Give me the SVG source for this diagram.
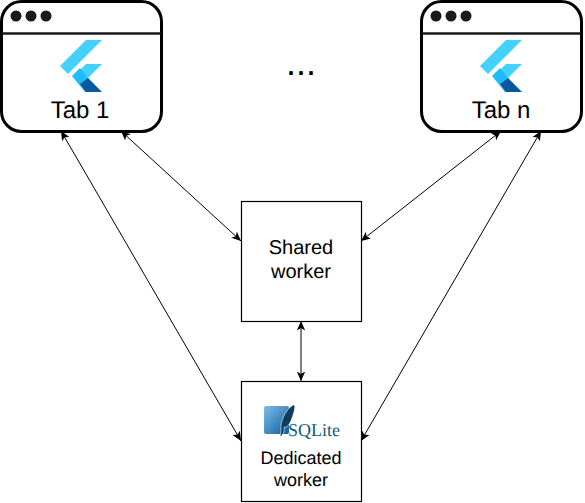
<svg xmlns="http://www.w3.org/2000/svg" width="585" height="503" viewBox="0 0 585 503">
<style>
text{font-family:"Liberation Sans",Arial,sans-serif;fill:#000;text-anchor:middle;text-rendering:geometricPrecision}
.tab{fill:#fff;stroke:#000;stroke-width:3}
.bar{stroke:#1a1a1a;stroke-width:2.5;fill:none}
.dot{fill:#1a1a1a}
.box{fill:#fff;stroke:#000;stroke-width:1.2}
.c{fill:none;stroke:#000;stroke-width:1;marker-start:url(#a);marker-end:url(#a)}
</style>
<defs>
<marker id="a" viewBox="0 0 10 10" refX="9.5" refY="5" markerUnits="userSpaceOnUse" markerWidth="10" markerHeight="10" orient="auto-start-reverse"><path d="M0 0.8L9.5 5L0 9.2L2.4 5Z" fill="#000"/></marker>
<linearGradient id="sq" x1="0" y1="0" x2="1" y2="1"><stop offset="0" stop-color="#7fbde6"/><stop offset="1" stop-color="#0b5fa0"/></linearGradient>
<g id="flutter">
<path d="M60 66L86 40H102L68 74Z" fill="#44d1fd"/>
<path d="M78 72L86 64H102L88 78Z" fill="#44d1fd"/>
<path d="M72 76L80 68L88 78L93 84L86 92H85Z" fill="#1fbcfd"/>
<path d="M80 84L88 78L102 92H86Z" fill="#08589c"/>
</g>
</defs>
<g id="connectors">
<line class="c" x1="121" y1="131" x2="241" y2="241"/>
<line class="c" x1="61" y1="131" x2="241" y2="441"/>
<line class="c" x1="501" y1="131" x2="361" y2="241"/>
<line class="c" x1="541" y1="131" x2="361" y2="441"/>
<line class="c" x1="301" y1="321" x2="301" y2="381"/>
</g>
<g id="tab1">
<rect class="tab" x="1.5" y="1.5" width="160" height="130" rx="20"/>
<line class="bar" x1="2" y1="33.5" x2="161" y2="33.5"/>
<circle class="dot" cx="16" cy="16" r="5.5"/><circle class="dot" cx="31" cy="16" r="5.5"/><circle class="dot" cx="46" cy="16" r="5.5"/>
<use href="#flutter"/>
<text x="80" y="118" font-size="24">Tab 1</text>
</g>
<g id="tabn">
<rect class="tab" x="421.5" y="1.5" width="160" height="130" rx="20"/>
<line class="bar" x1="422" y1="33.5" x2="581" y2="33.5"/>
<circle class="dot" cx="436" cy="16" r="5.5"/><circle class="dot" cx="451" cy="16" r="5.5"/><circle class="dot" cx="466" cy="16" r="5.5"/>
<use href="#flutter" x="420"/>
<text x="501" y="118" font-size="24">Tab n</text>
</g>
<g id="dots"><text x="301" y="75" font-size="36">...</text></g>
<g id="shared">
<rect class="box" x="241.5" y="201.5" width="120" height="120"/>
<text x="301" y="254" font-size="20">Shared</text>
<text x="301" y="278" font-size="20">worker</text>
</g>
<g id="dedicated">
<rect class="box" x="241.5" y="381.5" width="120" height="120"/>
<rect x="264" y="406" width="25" height="28" rx="2" fill="url(#sq)"/>
<path d="M293 405C296 404 295 410 292 418C290 424 287 428 284 427C285 432 282 436 280 437L281 430C280 422 285 410 293 405Z" fill="#0f3c5c" stroke="#fff" stroke-width=".6"/>
<text x="314" y="436" font-size="18" style="font-family:'Liberation Serif',serif;fill:#0f5c7c" textLength="52" lengthAdjust="spacingAndGlyphs">SQLite</text>
<text x="301" y="464" font-size="18">Dedicated</text>
<text x="301" y="486" font-size="18">worker</text>
</g>
</svg>
